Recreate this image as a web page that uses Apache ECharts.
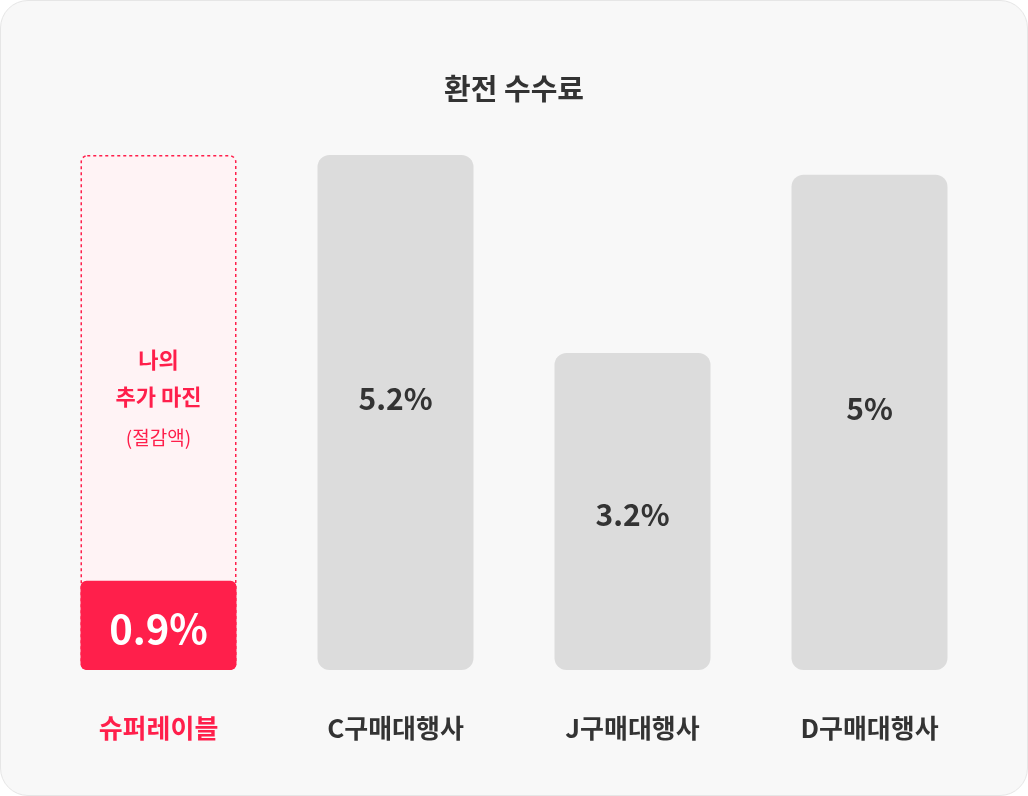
<!DOCTYPE html>
<html><head><meta charset="utf-8">
<script src="https://cdn.jsdelivr.net/npm/echarts@6/dist/echarts.min.js"></script>
<style>html,body{margin:0;background:#fff}#c{width:1028px;height:796px;background:#f8f8f8;border-radius:28px;box-sizing:border-box;border:1px solid #e6e6e6}</style>
</head><body><div id="c"></div>
<script>
const categories = ['슈퍼레이블','C구매대행사','J구매대행사','D구매대행사'];
const fees = [0.9, 5.2, 3.2, 5.0];
const feeLabels = ['0.9%','5.2%','3.2%','5%'];
const marginRef = 5.2;
const F = '"Noto Sans CJK KR", sans-serif';
const chart = echarts.init(document.getElementById('c'));
chart.setOption({
  title:{text:'환전 수수료',left:'center',top:68,textStyle:{fontFamily:F,fontSize:29,fontWeight:'bold',color:'#333'}},
  grid:{left:39,right:39,top:154,bottom:125},
  xAxis:{type:'category',data:categories,axisLine:{show:false},axisTick:{show:false},
    axisLabel:{margin:45,fontFamily:F,fontSize:26,fontWeight:'bold',
      color:(v,i)=>i===0?'#ff1f4b':'#333'}},
  yAxis:{type:'value',min:0,max:5.2,show:false,splitLine:{show:false}},
  series:[
    {type:'bar',barWidth:156,barGap:'-100%',silent:true,z:1,
     data:[{value:marginRef,itemStyle:{color:'#fff3f5',borderColor:'#ff1f4b',borderWidth:1.5,borderType:[3,3],borderRadius:6},
       label:{show:true,position:'inside',offset:[0,-12],lineHeight:37,
         formatter:'{a|나의}\n{a|추가 마진}\n{b|(절감액)}',
         rich:{a:{fontFamily:F,fontSize:22,fontWeight:'bold',color:'#ff1f4b',lineHeight:37},
               b:{fontFamily:F,fontSize:19,color:'#ff1f4b',lineHeight:44}}}},
       {value:0,itemStyle:{color:'transparent'}},{value:0,itemStyle:{color:'transparent'}},{value:0,itemStyle:{color:'transparent'}}]},
    {type:'bar',barWidth:156,z:2,
     data:fees.map((v,i)=>({value:v,
       itemStyle:{color:i===0?'#ff1f4b':'#dcdcdc',borderRadius:i===0?6:12},
       label:{show:true,position:'inside',offset:[0,i===0?3:(i===2?3:-14)],formatter:feeLabels[i],
         fontFamily:F,fontSize:i===0?40:30,fontWeight:'bold',color:i===0?'#fff':'#333'}}))}
  ]
});
</script></body></html>
